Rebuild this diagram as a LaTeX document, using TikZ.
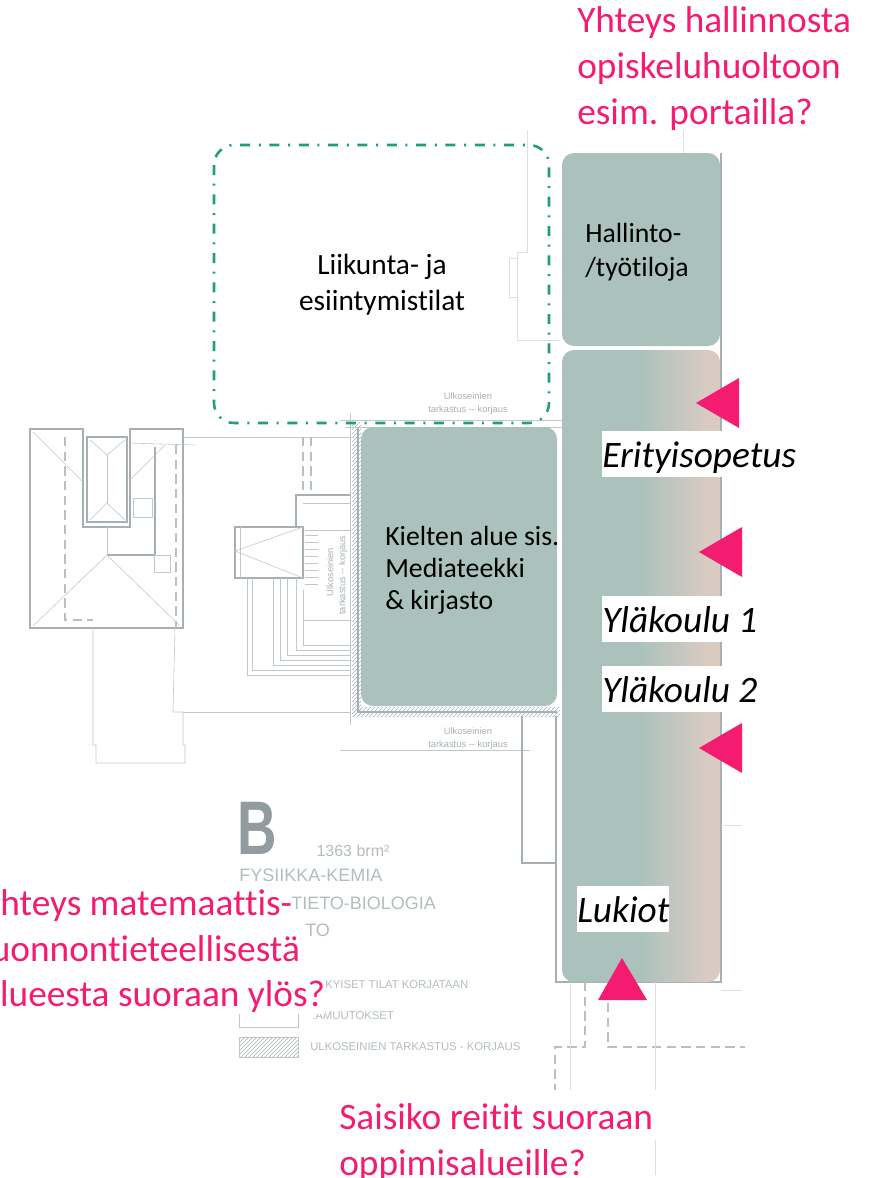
\documentclass[tikz,border=0pt]{standalone}
\usepackage{fontspec}
\setmainfont{Carlito}[Ligatures=NoCommon]
\newfontfamily\planfont{Liberation Sans}
\usetikzlibrary{patterns}
\definecolor{blockteal}{HTML}{AAC1BC}
\definecolor{blockbeige}{HTML}{D9CBC2}
\definecolor{notepink}{HTML}{F31C71}
\definecolor{dashgreen}{HTML}{1F9E78}
\definecolor{plangray}{HTML}{A6B0B3}
\pgfdeclarehorizontalshading{blockfade}{100bp}{color(0bp)=(blockteal); color(49bp)=(blockteal); color(71bp)=(blockbeige); color(100bp)=(blockbeige)}
\tikzset{
    planthin/.style={draw=plangray!70, line width=0.45pt},
    planthick/.style={draw=plangray, line width=1.3pt},
    planfaint/.style={draw=plangray!40, line width=0.6pt},
    plandash/.style={draw=plangray!80, line width=0.8pt, dash pattern=on 7pt off 4pt},
    plantext/.style={text=plangray, inner sep=0pt, font=\planfont\fontsize{7}{8}\selectfont},
    legendtext/.style={text=plangray!85, inner sep=0pt, font=\planfont\fontsize{#1}{#1}\selectfont},
    roomtext/.style={text=black, inner sep=0pt, align=left, font=\fontsize{20.8}{#1}\selectfont},
    areatext/.style={text=black, fill=white, inner sep=0pt, text height=27pt, text depth=7.5pt, font=\itshape\fontsize{28}{30}\selectfont},
    notetext/.style={text=notepink, inner sep=0pt, align=left, font=\fontsize{28}{34.2}\selectfont},
    notewhite/.style={notetext, fill=white, anchor=base west, text height=21pt, text depth=6pt},
    marker/.style={fill=notepink},
}
\begin{document}
\begin{tikzpicture}[x=0.75pt,y=-0.75pt]
\useasboundingbox (0,0) rectangle (877,1178);
% plan, left wing
\draw[planthick] (30,429) -- (83,429) -- (83,527) -- (130,527) -- (130,429) -- (183,429) -- (183,628) -- (30,628) -- cycle;
\draw[planthick] (87,437) rectangle (127,522);
\draw[planthin] (90,440) -- (107,455) -- (125,440);
\draw[planthin] (107,455) -- (107,503);
\draw[planthin] (90,520) -- (107,503) -- (125,520);
\draw[planthin] (33,432) -- (83,482);
\draw[planthin] (130,480) -- (165,445);
\draw[planthick] (155,447) -- (155,555) -- (107,555);
\draw[planthin] (107,527) -- (107,555);
\draw[planthin] (33,626) -- (107,555) -- (180,626);
\draw[plandash] (65,437) -- (65,620) -- (93,620);
\draw[plandash] (176,445) -- (176,628);
\draw[planthin] (133,498) rectangle (152,517);
\draw[planthin] (154,555) rectangle (170,572);
\draw[planthin] (127,443) -- (195,445);
\draw[planthin] (93,628) -- (93,745) -- (96,745) -- (96,763) -- (185,763) -- (185,745) -- (183,745) -- (183,712) -- (173,712) -- (175,628);
% plan, link to the main wing
\draw[planthin] (183,437) -- (350,437);
\draw[planthin] (183,712) -- (350,712);
\draw[plandash] (303,437) -- (303,491);
\draw[plandash] (311,437) -- (311,491);
\draw[planthick] (296,527) -- (296,495) -- (350,495);
\draw[planthin] (303,503) -- (350,503);
\draw[planthick] (235,527) rectangle (303,578);
\draw[planthin] (240,527) -- (240,578);
\draw[planthin] (303,527) -- (235,551) -- (303,578);
\draw[planthin] (305,530) -- (350,530);
\draw[planthin] (303,620) -- (350,620);
\foreach \y in {535,542,...,590} \draw[planthin] (305,\y) -- (318,\y);
\draw[planthin] (247,578) -- (247,675) -- (350,675);
\draw[planthin] (252,578) -- (252,670) -- (350,670);
\draw[planthin] (273,578) -- (273,665) -- (350,665);
\draw[planthin] (280,578) -- (280,660) -- (350,660);
\draw[planthin] (287,578) -- (287,655) -- (350,655);
\draw[planthin] (296,578) -- (296,650) -- (350,650);
\draw[planthin] (303,590) -- (303,645) -- (350,645);
\node (sideupper) [plantext, rotate=90] at (330,572) {Ulkoseinien};
\node (sidelower) [plantext, rotate=90] at (343,575) {tarkastus -- korjaus};
% plan, walls round the language area
\fill[pattern=north east lines, pattern color=plangray] (352,422) rectangle (361,716);
\fill[pattern=north east lines, pattern color=plangray] (352,707) rectangle (560,716);
\draw[planthin] (350,413) -- (350,725);
\draw[planthick] (358,427) -- (358,712) -- (557,712);
\draw[planthin] (340,420) -- (562,420);
\draw[planthin] (340,750) -- (530,750);
\draw[planthin] (345,427) -- (562,427);
\node (topupper) [plantext] at (468,396) {Ulkoseinien};
\node (toplower) [plantext] at (468,410) {tarkastus -- korjaus};
\node (botupper) [plantext] at (468,731) {Ulkoseinien};
\node (botlower) [plantext] at (468,745) {tarkastus -- korjaus};
% plan, main wing
\draw[planthick] (721,153) -- (721,982) -- (556,982) -- (556,716);
\draw[planthick] (522,716) -- (522,863) -- (556,863);
\draw[plandash] (585,982) -- (585,1047) -- (555,1047) -- (555,1090);
\draw[plandash] (608,1003) -- (608,1047) -- (745,1047);
\draw[planfaint] (570,982) -- (570,1090);
\draw[planfaint] (655,982) -- (655,1090);
\draw[planfaint] (655,1140) -- (655,1175);
\draw[planfaint] (721,825) -- (742,825);
\draw[planfaint] (721,990) -- (742,990);
\draw[planfaint] (683,130) -- (683,153);
\draw[planfaint] (527,130) -- (527,252) -- (517,252) -- (517,340) -- (560,340);
\draw[planfaint] (509,258) rectangle (517,297);
% plan, legend
\node (letterb) [legendtext=57, anchor=west, xscale=0.72, transform shape, text=plangray!88!black, font=\planfont\bfseries\fontsize{57}{57}\selectfont] at (237,828) {B};
\node (legendarea) [legendtext=12] at (353,851) {1363 brm²};
\node (legendfirst) [legendtext=13.5, anchor=west] at (239,875) {FYSIIKKA-KEMIA};
\node (legendsecond) [legendtext=13.5, anchor=west] at (291,903) {TIETO-BIOLOGIA};
\node (legendthird) [legendtext=13.5, anchor=west] at (305,930) {TO};
\node (legendfourth) [legendtext=8.5, anchor=west] at (325,985) {KYISET TILAT KORJATAAN};
\draw[planthin] (239,1012) rectangle (298,1027);
\node (legendfifth) [legendtext=8.5, anchor=west] at (312,1016) {.AMUUTOKSET};
\filldraw[planthin, pattern=north east lines, pattern color=plangray] (239,1037) rectangle (298,1057);
\node (legendsixth) [legendtext=8.5, anchor=west] at (310,1047) {ULKOSEINIEN TARKASTUS - KORJAUS};
% rooms
\draw[dashgreen, line width=1.9pt, rounded corners=15pt, dash pattern=on 7.5pt off 6.5pt on 1.5pt off 6.5pt] (214,145) rectangle (549,423);
\fill[blockteal, rounded corners=9pt] (562,153) rectangle (720,346);
\shade[shading=blockfade, rounded corners=9pt] (562,350) rectangle (720,982);
\fill[blockteal, rounded corners=9pt] (361,427) rectangle (557,706);
\node (liikunta) [roomtext=27, align=center, font=\fontsize{22}{27}\selectfont] at (382,285) {Liikunta- ja\\esiintymistilat};
\node (hallinto) [roomtext=25.5, anchor=west] at (585,252) {Hallinto-\\/työtiloja};
\node (kielten) [roomtext=24, anchor=west] at (385,570) {Kielten alue sis.\\Mediateekki\\\& kirjasto};
% learning areas
\node (erityis) [areatext, anchor=west] at (602,454) {Erityisopetus};
\node (ylakoulua) [areatext, anchor=west] at (602,619) {Yläkoulu 1};
\node (ylakoulub) [areatext, anchor=west] at (602,689) {Yläkoulu 2};
\node (lukiot) [areatext, anchor=west] at (577,909) {Lukiot};
% routes
\fill[marker] (696,403) -- (739,378) -- (739,428) -- cycle;
\fill[marker] (699,552) -- (742,527) -- (742,577) -- cycle;
\fill[marker] (699,748) -- (742,723) -- (742,773) -- cycle;
\fill[marker] (622,958) -- (647,1000) -- (598,1000) -- cycle;
% questions
\node (hallintonote) [notetext, anchor=base west] at (577,124) {Yhteys hallinnosta\\opiskeluhuoltoon\\esim. portailla?};
\node (reititnote) [notetext, anchor=base west] at (339,1175) {Saisiko reitit suoraan\\oppimisalueille?};
\node (matikkaa) [notewhite] at (-18,915) {Yhteys matemaattis-};
\node (matikkab) [notewhite] at (-18,961) {luonnontieteellisestä};
\node (matikkac) [notewhite] at (-18,1006) {alueesta suoraan ylös?};
\end{tikzpicture}
\end{document}
